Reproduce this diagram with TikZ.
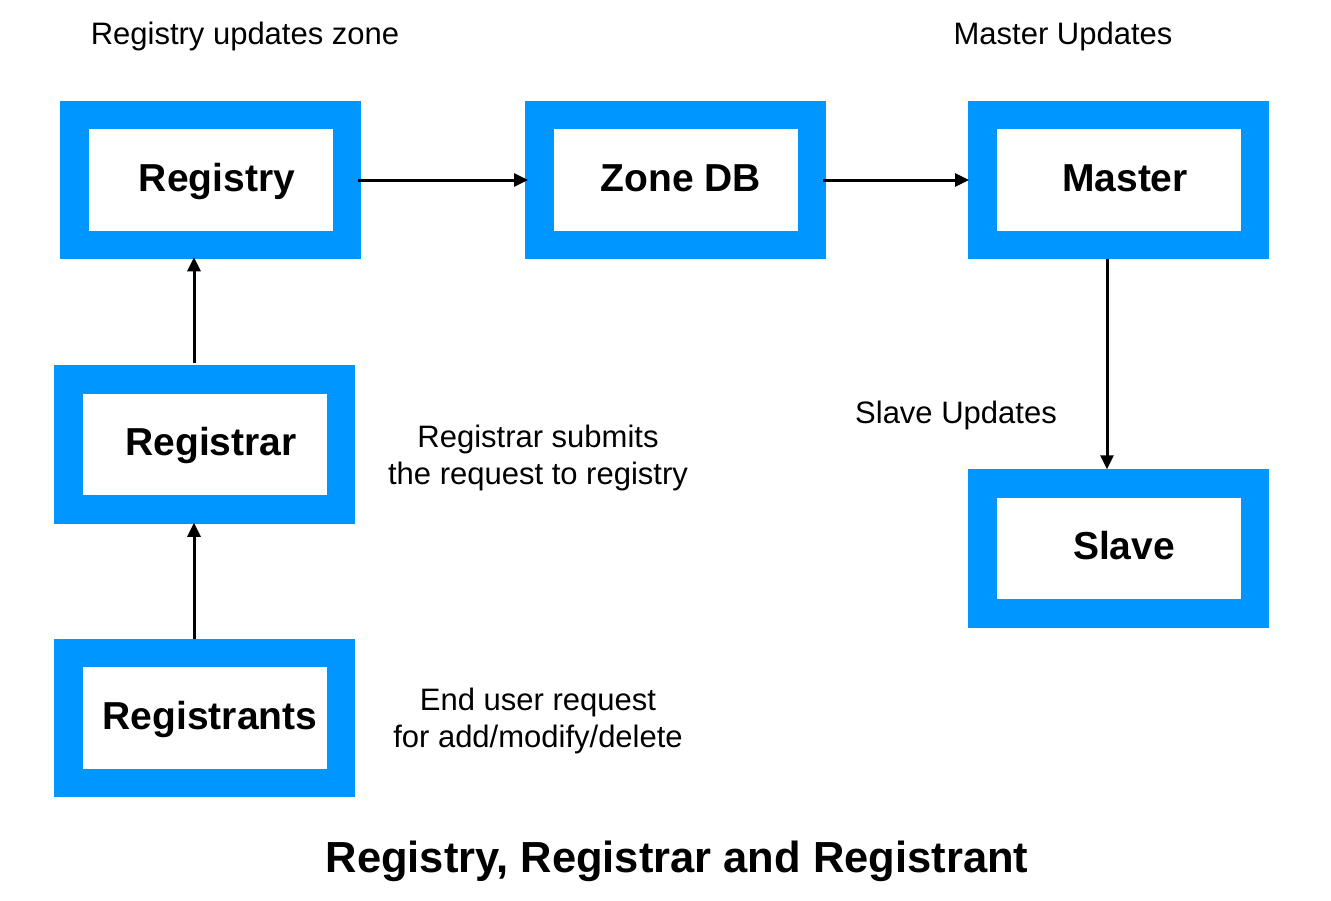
\documentclass[tikz,border=0pt]{standalone}
\usepackage{fontspec}
\setmainfont{Liberation Sans}
\usetikzlibrary{arrows.meta}
\definecolor{boxblue}{RGB}{0,150,255}
\tikzset{
  bluebox/.style={draw=boxblue, line width=28.5pt, outer sep=14.25pt, inner sep=0pt,
    minimum width=272.5pt, minimum height=130pt, rectangle},
  boxtext/.style={font=\fontsize{39}{45}\selectfont\bfseries, inner sep=0pt, anchor=base},
  lbl/.style={font=\fontsize{31}{37}\selectfont, inner sep=0pt, anchor=base},
  arr/.style={line width=3pt, -{Triangle[length=14pt,width=13pt]}},
}
\begin{document}
\begin{tikzpicture}[x=1pt,y=-1pt]
\useasboundingbox (0,0) rectangle (1331,900);
% boxes
\node[bluebox] (registry) at (210.5,180) {};
\node[bluebox] (zonedb) at (675.5,180) {};
\node[bluebox] (master) at (1118.5,180) {};
\node[bluebox] (registrar) at (204.5,444.5) {};
\node[bluebox] (registrants) at (204.5,718) {};
\node[bluebox] (slave) at (1118.5,548.5) {};
% box texts
\node[boxtext] (registry-t) at (217,191) {Registry};
\node[boxtext] (zonedb-t) at (681,191) {Zone DB};
\node[boxtext] (master-t) at (1125,191) {Master};
\node[boxtext] (registrar-t) at (211,455) {Registrar};
\node[boxtext] (registrants-t) at (210,729) {Registrants};
\node[boxtext] (slave-t) at (1124,559) {Slave};
% labels
\node[lbl] (l1) at (245,44) {Registry updates zone};
\node[lbl] (l2) at (1063,44) {Master Updates};
\node[lbl] (l3) at (956,423) {Slave Updates};
\node[lbl] (l4a) at (538,447) {Registrar submits};
\node[lbl] (l4b) at (538,484) {the request to registry};
\node[lbl] (l5a) at (538,710) {End user request};
\node[lbl] (l5b) at (538,747) {for add/modify/delete};
\node[font=\fontsize{43.5}{50}\selectfont\bfseries, inner sep=0pt, anchor=base] (title) at (677,872) {Registry, Registrar and Registrant};
% connectors
\draw[arr] ([xshift=-3pt]registry.east) -- ([xshift=3pt]zonedb.west);
\draw[arr] ([xshift=-3pt]zonedb.east) -- ([xshift=1pt]master.west);
\draw[arr] ([xshift=-11.5pt]master.south) -- ([xshift=-11.5pt]slave.north);
\draw[arr] ([xshift=-10.5pt,yshift=2pt]registrar.north) -- ([xshift=-10.5pt,yshift=2pt]registrar.north |- registry.south);
\draw[arr] ([xshift=-10.5pt]registrants.north) -- ([xshift=-10.5pt,yshift=1pt]registrar.south);
\end{tikzpicture}
\end{document}
